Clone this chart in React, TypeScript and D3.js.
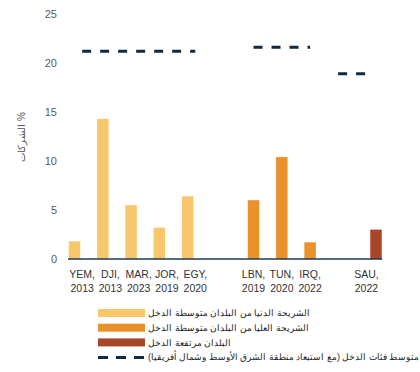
import React, { useEffect, useRef } from 'react';
import * as d3 from 'd3';

const countries = ['YEM', 'DJI', 'MAR', 'JOR', 'EGY', 'LBN', 'TUN', 'IRQ', 'SAU'];
const years = ['2013', '2013', '2023', '2019', '2020', '2019', '2020', '2022', '2022'];
const values = [1.8, 14.3, 5.5, 3.2, 6.4, 6.0, 10.4, 1.7, 3.0];
const incomeGroup = [0, 0, 0, 0, 0, 1, 1, 1, 2];
const groupAverages = [21.2, 21.6, 18.9];
const yTicks = [0, 5, 10, 15, 20, 25];
const legendLabels = [
  'الشريحة الدنيا من البلدان متوسطة الدخل',
  'الشريحة العليا من البلدان متوسطة الدخل',
  'البلدان مرتفعة الدخل',
  'متوسط فئات الدخل (مع استبعاد منطقة الشرق الأوسط وشمال أفريقيا)',
];
const yLabel = '% الشركات';

const colors = ['#f8c76c', '#e9922b', '#a8462a'];
const navy = '#0f2b3d';
const font = '"Liberation Sans", Arial, sans-serif';

// extra slots between income groups; labels and average lines sit a bit off the bars
const groupGap = 1.33;
const labelShift = [0.27, 0, -0.34];

const App = () => {
  const ref = useRef<SVGSVGElement>(null);

  useEffect(() => {
    const svg = d3.select(ref.current);
    svg.selectAll('*').remove();

    const slots = countries.map((_, i) => i + incomeGroup[i] * groupGap);
    const labelSlots = slots.map((s, i) => s + labelShift[incomeGroup[i]]);
    const x = d3.scaleLinear().domain([0, slots[slots.length - 1]]).range([74.5, 376]);
    const y = d3.scaleLinear().domain([0, 25]).range([259, 14]);
    const barW = 11.5;

    // y tick labels
    svg.append('g')
      .selectAll('text')
      .data(yTicks)
      .enter().append('text')
      .attr('x', 57)
      .attr('y', d => y(d))
      .attr('dy', '0.35em')
      .attr('text-anchor', 'end')
      .attr('fill', '#5a5a5a')
      .style('font-size', '11px')
      .style('font-family', font)
      .text(d => d);

    svg.append('text')
      .attr('transform', `translate(25,${137}) rotate(-90)`)
      .attr('text-anchor', 'middle')
      .attr('direction', 'rtl')
      .attr('fill', '#555')
      .style('font-size', '10px')
      .style('font-family', font)
      .text(yLabel);

    // bars
    svg.append('g')
      .selectAll('rect')
      .data(values)
      .enter().append('rect')
      .attr('x', (_, i) => x(slots[i]) - barW / 2)
      .attr('y', d => y(d))
      .attr('width', barW)
      .attr('height', d => y(0) - y(d))
      .attr('fill', (_, i) => colors[incomeGroup[i]]);

    // baseline
    svg.append('line')
      .attr('x1', x(-0.23)).attr('x2', x(slots[slots.length - 1] + 0.22))
      .attr('y1', y(0)).attr('y2', y(0))
      .attr('stroke', '#1c3a55')
      .attr('stroke-width', 1.5);

    // group average dashed lines
    groupAverages.forEach((v, g) => {
      const s = labelSlots.filter((_, i) => incomeGroup[i] === g);
      const start = s.length > 1 ? s[0] : s[0] - 1;
      svg.append('line')
        .attr('x1', x(start))
        .attr('x2', x(s[s.length - 1]))
        .attr('y1', y(v)).attr('y2', y(v))
        .attr('stroke', navy)
        .attr('stroke-width', 3)
        .attr('stroke-dasharray', '9,9');
    });

    // x labels
    const xl = svg.append('g')
      .selectAll('text')
      .data(countries)
      .enter().append('text')
      .attr('text-anchor', 'middle')
      .attr('fill', '#333')
      .style('font-size', '10.5px')
      .style('font-family', font);
    xl.append('tspan')
      .attr('x', (_, i) => x(labelSlots[i]))
      .attr('y', 278)
      .text(d => `${d},`);
    xl.append('tspan')
      .attr('x', (_, i) => x(labelSlots[i]))
      .attr('y', 292)
      .text((_, i) => years[i]);

    // legend
    const lg = svg.append('g').attr('transform', 'translate(98,309)');
    legendLabels.forEach((label, i) => {
      const row = lg.append('g').attr('transform', `translate(0,${i * 14.7})`);
      if (i < 3) {
        row.append('rect')
          .attr('width', 47).attr('height', 8)
          .attr('fill', colors[i]);
      } else {
        row.append('line')
          .attr('x1', 0).attr('x2', 47)
          .attr('y1', 4.5).attr('y2', 4.5)
          .attr('stroke', navy)
          .attr('stroke-width', 3)
          .attr('stroke-dasharray', '10,8');
      }
      row.append('text')
        .attr('x', 50)
        .attr('y', 4)
        .attr('dy', '0.35em')
        .attr('direction', 'rtl')
        .attr('text-anchor', 'end')
        .attr('fill', '#222')
        .style('font-size', '9px')
        .style('font-family', font)
        .text(label);
    });
  }, []);

  return (
    <svg
      ref={ref}
      width={420}
      height={372}
      style={{ position: 'absolute', left: 0, top: 0, background: '#fff' }}
    />
  );
};

export default App;
